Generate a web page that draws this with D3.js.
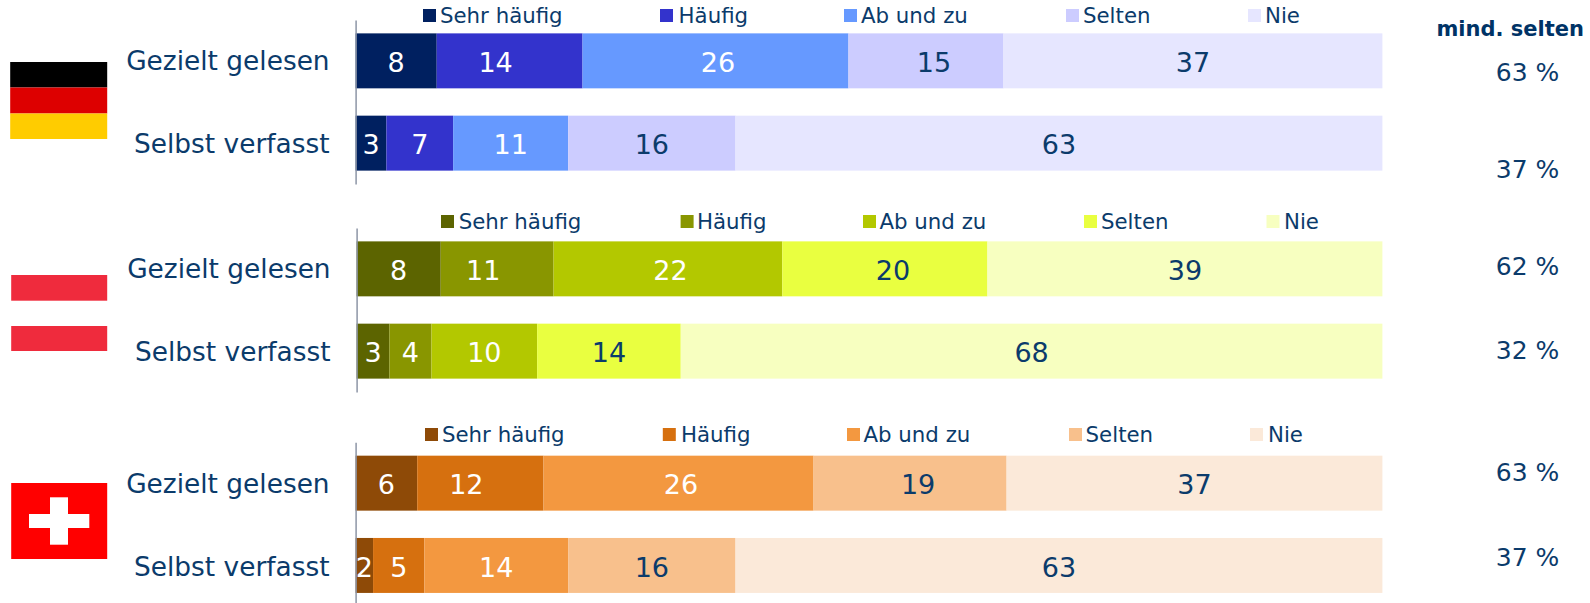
<!DOCTYPE html>
<html lang="de">
<head>
<meta charset="utf-8">
<script src="https://cdn.jsdelivr.net/npm/d3@7"></script>
<style>
html,body{margin:0;padding:0;background:#fff;overflow:hidden}
svg{display:block}
text{font-family:"DejaVu Sans",Verdana,sans-serif;fill:#0b3b6b}
</style>
</head>
<body>
<svg id="chart" width="1590" height="603"></svg>
<script>
// --- data ---
const categories = ["Sehr häufig", "Häufig", "Ab und zu", "Selten", "Nie"];
const rows = ["Gezielt gelesen", "Selbst verfasst"];
const countries = ["Deutschland", "Österreich", "Schweiz"];

const deGelesen = [7.9, 14.2, 25.9, 15.1, 36.9];
const deVerfasst = [3.0, 6.5, 11.2, 16.3, 63.0];
const atGelesen = [8.2, 11.0, 22.3, 20.0, 38.5];
const atVerfasst = [3.2, 4.1, 10.3, 14.0, 68.4];
const chGelesen = [6.0, 12.3, 26.3, 18.8, 36.6];
const chVerfasst = [1.7, 5.0, 14.0, 16.3, 63.0];

const deMind = [63, 37];
const atMind = [62, 32];
const chMind = [63, 37];

const mindTitle = "mind. selten";

const dePalette = ["#002060", "#3333cc", "#6699ff", "#ccccff", "#e6e6ff"];
const atPalette = ["#5c6400", "#899600", "#b3c800", "#e9ff40", "#f7ffc0"];
const chPalette = ["#8e4a07", "#d6700f", "#f39840", "#f8c08c", "#fbe9d9"];

// --- layout (not data) ---
const panels = [
  {name: countries[0], values: [deGelesen, deVerfasst], mind: deMind, palette: dePalette,
   axisTop: 20, x0: 355.6, legendY: 9, legendX: [423, 660, 844, 1066, 1248], legendTX: [440, 678.6, 861, 1083, 1265],
   mindY: [81, 178]},
  {name: countries[1], values: [atGelesen, atVerfasst], mind: atMind, palette: atPalette,
   axisTop: 228, x0: 356.6, legendY: 215, legendX: [441, 680.6, 863, 1084, 1266.5], legendTX: [458.7, 697, 879.5, 1101, 1284],
   mindY: [275, 359]},
  {name: countries[2], values: [chGelesen, chVerfasst], mind: chMind, palette: chPalette,
   axisTop: 442.3, x0: 355.6, legendY: 428, legendX: [425, 662.8, 847, 1069, 1250], legendTX: [442, 681, 863.5, 1085.6, 1268],
   mindY: [481, 566]}
];
const xRight = 1382.4, axisHeight = 164, legendSize = 13;
// label nudges of the first row, as placed by hand in the original
const firstRowNudge = [0, -14, 2.5, 8, 0];

const svg = d3.select("#chart");
const stack = d3.stack().keys(d3.range(categories.length));

panels.forEach((p, pi) => {
  const g = svg.append("g").attr("class", "panel").attr("data-country", p.name);
  const x = d3.scaleLinear().domain([0, 100]).range([p.x0, xRight]);
  const y = d3.scaleBand().domain(rows)
    .range([p.axisTop, p.axisTop + axisHeight])
    .paddingInner(0.332).paddingOuter(0.1625);
  const color = d3.scaleOrdinal().domain(d3.range(categories.length)).range(p.palette);

  rows.forEach((row, ri) => {
    const series = stack([p.values[ri]]);
    const rowG = g.append("g").attr("class", "row");
    rowG.selectAll("rect").data(series).join("rect")
      .attr("x", s => x(s[0][0]))
      .attr("width", s => x(s[0][1]) - x(s[0][0]))
      .attr("y", y(row))
      .attr("height", y.bandwidth())
      .attr("fill", s => color(s.key));
    rowG.selectAll("text").data(series).join("text")
      .attr("x", s => (x(s[0][0]) + x(s[0][1])) / 2 + (ri === 0 ? firstRowNudge[s.key] : 0))
      .attr("y", y(row) + y.bandwidth() / 2 + 11.3)
      .attr("text-anchor", "middle")
      .attr("font-size", 27)
      .style("fill", s => s.key < 3 ? "#ffffff" : "#0b3b6b")
      .text(s => Math.round(s[0][1] - s[0][0]));
  });

  // category axis
  const axis = g.append("g").attr("class", "axis")
    .attr("transform", `translate(${p.x0},0)`)
    .call(d3.axisLeft(y).tickSize(0).tickPadding(26));
  axis.select(".domain").attr("stroke", "#8d95a6").attr("stroke-width", 1.5);
  axis.selectAll("text").attr("font-size", 26.4).attr("font-family", null)
    .attr("dy", (d, i) => i === 0 ? "0.36em" : "0.39em").style("fill", "#0b3b6b");

  // legend
  const lg = g.append("g").attr("class", "legend");
  lg.selectAll("rect").data(categories).join("rect")
    .attr("x", (d, i) => p.legendX[i])
    .attr("y", p.legendY)
    .attr("width", legendSize).attr("height", legendSize)
    .attr("fill", (d, i) => color(i));
  lg.selectAll("text").data(categories).join("text")
    .attr("x", (d, i) => p.legendTX[i])
    .attr("y", p.legendY + 14)
    .attr("font-size", 21.3)
    .text(d => d);

  // right column
  g.selectAll("text.mind").data(p.mind).join("text").attr("class", "mind")
    .attr("x", 1527.5)
    .attr("y", (d, i) => p.mindY[i])
    .attr("text-anchor", "middle")
    .attr("font-size", 25)
    .text(d => d + " %");
});

svg.append("text").attr("x", 1584).attr("y", 36)
  .attr("text-anchor", "end").attr("font-size", 21).attr("font-weight", "bold")
  .style("fill", "#003366").text(mindTitle);

// flags
const flags = svg.append("g").attr("class", "flags");
const stripes = [
  {x: 10.2, y: 62, h: 25.5, w: 97, c: "#000000"},
  {x: 10.2, y: 87.5, h: 26, w: 97, c: "#dd0000"},
  {x: 10.2, y: 113.5, h: 25.5, w: 97, c: "#ffcc00"},
  {x: 11.2, y: 275, h: 25.7, w: 96, c: "#ef2b3d"},
  {x: 11.2, y: 326, h: 25, w: 96, c: "#ef2b3d"},
  {x: 11.2, y: 483, h: 76, w: 96, c: "#ff0000"},
  {x: 29, y: 514, h: 14, w: 60.3, c: "#ffffff"},
  {x: 50, y: 497.3, h: 47.4, w: 18, c: "#ffffff"}
];
flags.selectAll("rect").data(stripes).join("rect")
  .attr("x", d => d.x).attr("y", d => d.y).attr("width", d => d.w).attr("height", d => d.h).attr("fill", d => d.c);
</script>
</body>
</html>
